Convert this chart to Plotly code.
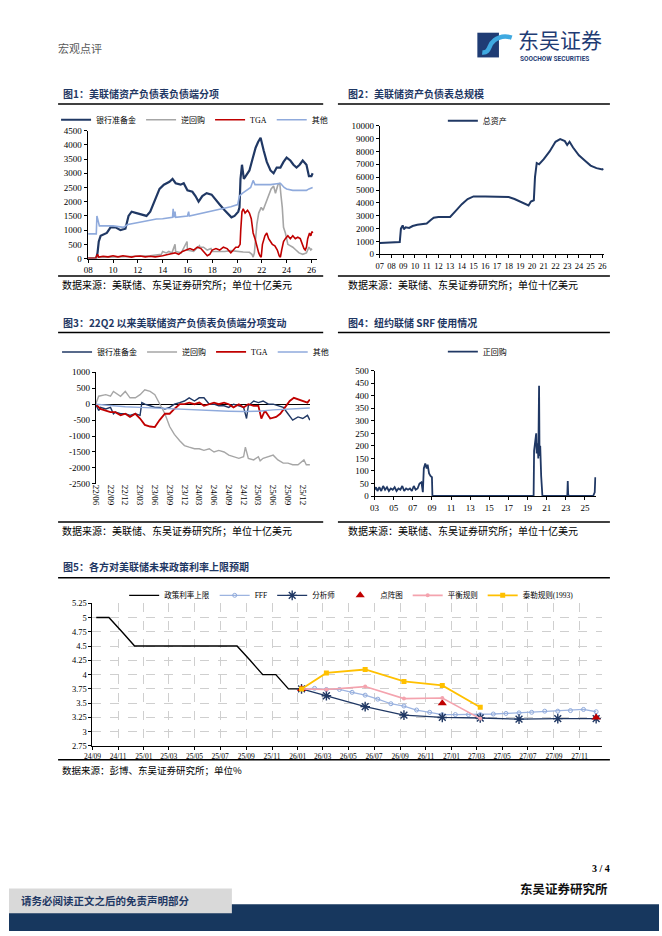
import plotly.graph_objects as go

# ---------------- data ----------------
# Chart 1: Fed liabilities (bn USD), decimal years
C1_RESERVES = [(2008.0, 10), (2008.65, 20), (2008.75, 200), (2008.85, 600), (2009.0, 800), (2009.3, 850), (2009.5, 900),
               (2009.8, 1100), (2010.2, 1100), (2010.6, 1000), (2011.0, 1050), (2011.25, 1500), (2011.5, 1650),
               (2011.9, 1600), (2012.3, 1550), (2012.7, 1500), (2013.0, 1650), (2013.35, 2000), (2013.75, 2450),
               (2014.1, 2600), (2014.55, 2700), (2014.8, 2800), (2015.05, 2650), (2015.45, 2600), (2015.7, 2650),
               (2016.0, 2400), (2016.4, 2350), (2016.65, 2200), (2016.9, 2000), (2017.2, 2200), (2017.55, 2300),
               (2017.95, 2250), (2018.2, 2100), (2018.6, 1900), (2019.0, 1700), (2019.3, 1550), (2019.55, 1450),
               (2019.8, 1500), (2020.1, 1650), (2020.2, 1800), (2020.28, 2800), (2020.4, 3300), (2020.55, 2800),
               (2020.7, 2900), (2021.0, 3100), (2021.25, 3500), (2021.5, 3900), (2021.7, 4100), (2021.9, 4250),
               (2022.15, 3800), (2022.4, 3400), (2022.7, 3100), (2022.95, 3000), (2023.2, 3200), (2023.5, 3200),
               (2023.75, 3400), (2024.0, 3550), (2024.3, 3450), (2024.55, 3300), (2024.8, 3200), (2025.05, 3300),
               (2025.3, 3450), (2025.6, 3300), (2025.8, 2900), (2026.0, 2900), (2026.1, 3000)]
C1_RRP = [(2008.0, 20), (2009.0, 30), (2010.0, 60), (2011.0, 60), (2012.0, 80), (2013.0, 100), (2013.9, 150),
          (2014.0, 250), (2014.3, 200), (2014.5, 250), (2014.75, 200), (2015.0, 500), (2015.05, 250), (2015.5, 200),
          (2015.97, 600), (2016.0, 300), (2016.5, 250), (2016.97, 450), (2017.0, 400), (2017.3, 400), (2017.6, 300),
          (2017.9, 350), (2018.0, 250), (2018.5, 250), (2019.0, 250), (2019.5, 280), (2020.0, 250), (2020.5, 230),
          (2021.0, 220), (2021.2, 150), (2021.3, 50), (2021.4, 200), (2021.5, 700), (2021.6, 1200), (2021.75, 1600),
          (2021.95, 1800), (2022.1, 1700), (2022.35, 2000), (2022.5, 2200), (2022.75, 2450), (2022.95, 2550),
          (2023.1, 2300), (2023.3, 2600), (2023.45, 2650), (2023.55, 2200), (2023.65, 1800), (2023.75, 1100),
          (2023.9, 900), (2024.1, 500), (2024.3, 450), (2024.5, 400), (2024.75, 300), (2025.0, 200), (2025.3, 150),
          (2025.6, 200), (2025.8, 400), (2025.95, 300), (2026.05, 350)]
C1_TGA = [(2008.0, 10), (2008.6, 20), (2008.75, 150), (2008.85, 50), (2009.2, 80), (2009.6, 60), (2010.0, 100),
          (2010.4, 60), (2010.8, 100), (2011.2, 80), (2011.5, 50), (2011.8, 80), (2012.2, 90), (2012.6, 60),
          (2013.0, 80), (2013.4, 60), (2013.8, 80), (2014.0, 100), (2014.5, 150), (2015.0, 200), (2015.3, 150),
          (2015.6, 250), (2015.9, 300), (2016.2, 350), (2016.5, 300), (2016.8, 400), (2017.1, 350), (2017.4, 200),
          (2017.6, 100), (2017.8, 150), (2018.0, 300), (2018.3, 350), (2018.6, 300), (2018.9, 400), (2019.2, 350),
          (2019.5, 200), (2019.7, 300), (2019.9, 400), (2020.1, 400), (2020.25, 500), (2020.3, 1000), (2020.4, 1650),
          (2020.5, 1750), (2020.65, 1600), (2020.85, 1700), (2021.0, 1600), (2021.15, 1400), (2021.3, 900),
          (2021.45, 700), (2021.6, 400), (2021.75, 200), (2021.85, 100), (2021.95, 50), (2022.05, 500),
          (2022.25, 800), (2022.4, 900), (2022.55, 700), (2022.7, 600), (2022.85, 500), (2023.05, 450),
          (2023.25, 300), (2023.4, 100), (2023.5, 50), (2023.6, 300), (2023.75, 600), (2023.9, 700), (2024.1, 800),
          (2024.3, 700), (2024.5, 800), (2024.7, 700), (2024.9, 750), (2025.1, 700), (2025.25, 500), (2025.4, 350),
          (2025.5, 300), (2025.6, 400), (2025.7, 700), (2025.85, 900), (2025.95, 800), (2026.05, 950), (2026.1, 900)]
C1_OTHER = [(2008.0, 870), (2008.65, 870), (2008.7, 1500), (2008.8, 1300), (2008.9, 1150), (2009.5, 1150),
            (2010.0, 1150), (2010.85, 1100), (2011.2, 1200), (2012.15, 1280), (2013.0, 1350), (2013.5, 1390),
            (2014.0, 1400), (2014.8, 1450), (2014.85, 1750), (2014.9, 1450), (2015.0, 1650), (2015.05, 1450),
            (2016.0, 1500), (2016.1, 1650), (2016.15, 1500), (2017.0, 1580), (2017.4, 1600), (2018.0, 1680),
            (2018.75, 1750), (2019.5, 1820), (2020.05, 1900), (2020.2, 2200), (2020.45, 2300), (2020.8, 2400),
            (2021.1, 2500), (2021.3, 2750), (2021.45, 2600), (2021.7, 2600), (2022.0, 2600), (2022.7, 2600),
            (2023.5, 2650), (2023.8, 2500), (2024.0, 2450), (2024.5, 2400), (2025.05, 2400), (2025.6, 2400),
            (2025.8, 2450), (2026.1, 2500)]
C1_XTICKS = ["08", "10", "12", "14", "16", "18", "20", "22", "24", "26"]
C1_NAMES = ["银行准备金", "逆回购", "TGA", "其他"]

# Chart 2: total assets
C2_TOTAL = [(2007.0, 880), (2008.0, 900), (2008.7, 950), (2008.8, 2000), (2008.95, 2250), (2009.05, 1950),
            (2009.2, 2100), (2009.5, 2050), (2009.8, 2200), (2010.2, 2300), (2010.6, 2350), (2011.0, 2400),
            (2011.4, 2700), (2011.6, 2850), (2012.0, 2900), (2012.5, 2900), (2013.0, 2900), (2013.5, 3400),
            (2014.0, 3900), (2014.5, 4300), (2015.0, 4500), (2016.0, 4500), (2017.0, 4450), (2018.0, 4450),
            (2018.5, 4300), (2019.0, 4100), (2019.7, 3800), (2019.9, 4100), (2020.15, 4200), (2020.25, 6000),
            (2020.4, 7100), (2020.6, 7000), (2021.0, 7400), (2021.5, 8000), (2022.0, 8750), (2022.4, 8950),
            (2022.8, 8800), (2023.0, 8500), (2023.2, 8750), (2023.5, 8300), (2024.0, 7700), (2024.5, 7300),
            (2025.0, 6900), (2025.5, 6700), (2026.0, 6600), (2026.1, 6650)]
C2_XTICKS = ["07", "08", "09", "10", "11", "12", "13", "14", "15", "16", "17", "18", "19", "20", "21", "22",
             "23", "24", "25", "26"]
C2_NAME = "总资产"

# Chart 3: change since 22Q2
C3_RESERVES = [(2022.50, 0), (2022.55, -200), (2022.58, -100), (2022.67, -150), (2022.75, -100), (2022.80, -300),
               (2022.83, -250), (2022.92, -300), (2023.00, -300), (2023.08, -350), (2023.17, -300), (2023.25, -350),
               (2023.28, 50), (2023.33, 0), (2023.42, -50), (2023.50, -100), (2023.58, -100), (2023.67, -150),
               (2023.75, -100), (2023.83, 0), (2023.92, 50), (2024.00, 100), (2024.08, 200), (2024.17, 100),
               (2024.25, 200), (2024.33, 200), (2024.42, 0), (2024.50, 0), (2024.58, -50), (2024.67, -50),
               (2024.75, -100), (2024.83, 0), (2024.92, -50), (2025.00, -100), (2025.05, -450), (2025.08, -50),
               (2025.17, 100), (2025.25, 50), (2025.33, 100), (2025.42, 0), (2025.50, 0), (2025.58, -50),
               (2025.67, -100), (2025.75, -300), (2025.83, -500), (2025.92, -400), (2026.00, -450), (2026.08, -350),
               (2026.12, -500)]
C3_RRP = [(2022.50, 0), (2022.55, 250), (2022.67, 300), (2022.75, 250), (2022.80, 400), (2022.92, 250),
          (2023.00, 400), (2023.08, 200), (2023.17, 200), (2023.25, 300), (2023.33, 450), (2023.42, 400),
          (2023.50, 300), (2023.58, 0), (2023.67, -300), (2023.75, -700), (2023.83, -950), (2023.92, -1150),
          (2024.00, -1300), (2024.08, -1350), (2024.17, -1400), (2024.25, -1400), (2024.33, -1450), (2024.42, -1400),
          (2024.50, -1500), (2024.58, -1450), (2024.67, -1500), (2024.75, -1600), (2024.83, -1650), (2024.92, -1700),
          (2025.00, -1650), (2025.03, -1350), (2025.08, -1700), (2025.17, -1750), (2025.25, -1650), (2025.28, -1780),
          (2025.33, -1700), (2025.42, -1650), (2025.50, -1600), (2025.58, -1750), (2025.67, -1850), (2025.75, -1850),
          (2025.83, -1900), (2025.92, -1900), (2026.00, -1800), (2026.02, -1750), (2026.06, -1900), (2026.12, -1900)]
C3_TGA = [(2022.50, 0), (2022.58, -150), (2022.67, -200), (2022.75, -250), (2022.83, -250), (2022.92, -350),
          (2023.00, -300), (2023.08, -400), (2023.17, -300), (2023.25, -450), (2023.33, -650), (2023.42, -700),
          (2023.50, -720), (2023.58, -500), (2023.67, -300), (2023.75, -300), (2023.83, -150), (2023.92, 0),
          (2024.00, 0), (2024.08, 50), (2024.17, 0), (2024.25, 50), (2024.33, -50), (2024.42, 0), (2024.50, 50),
          (2024.58, 0), (2024.67, 50), (2024.75, 0), (2024.83, -100), (2024.92, 0), (2025.00, -100), (2025.08, 0),
          (2025.17, -50), (2025.25, -50), (2025.30, -450), (2025.36, -200), (2025.45, -450), (2025.55, -400),
          (2025.62, -300), (2025.70, -100), (2025.78, 100), (2025.85, 200), (2025.92, 150), (2026.00, 100),
          (2026.08, 50), (2026.12, 150)]
C3_OTHER = [(2022.5, 0), (2022.75, -50), (2023.0, -80), (2023.25, -100), (2023.5, -120), (2023.75, -150),
            (2024.0, -180), (2024.25, -200), (2024.5, -200), (2024.75, -220), (2025.0, -230), (2025.25, -220),
            (2025.5, -180), (2025.75, -150), (2026.0, -130), (2026.12, -120)]
C3_XTICKS = ["22/06", "22/09", "22/12", "23/03", "23/06", "23/09", "23/12", "24/03", "24/06", "24/09",
             "24/12", "25/03", "25/06", "25/09", "25/12"]
C3_YTICKS = [1000, 500, 0, -500, -1000, -1500, -2000, -2500]

# Chart 4: NY Fed repo (SRF) usage
C4_REPO = [(2003.0, 25), (2003.15, 35), (2003.3, 20), (2003.5, 35), (2003.7, 20), (2003.9, 40), (2004.1, 25),
           (2004.3, 35), (2004.5, 20), (2004.7, 30), (2004.9, 25), (2005.1, 35), (2005.3, 20), (2005.5, 30),
           (2005.7, 25), (2005.9, 40), (2006.1, 20), (2006.3, 30), (2006.5, 25), (2006.7, 30), (2006.9, 20),
           (2007.1, 40), (2007.3, 25), (2007.5, 30), (2007.7, 50), (2007.9, 55), (2008.05, 15), (2008.15, 110),
           (2008.3, 130), (2008.45, 110), (2008.55, 125), (2008.7, 90), (2008.85, 80), (2009.0, 75), (2009.05, 0),
           (2019.63, 0), (2019.68, 180), (2019.8, 220), (2019.9, 250), (2019.95, 170), (2020.05, 210),
           (2020.12, 150), (2020.2, 440), (2020.25, 160), (2020.32, 200), (2020.42, 80), (2020.55, 0),
           (2023.15, 0), (2023.2, 60), (2023.24, 10), (2023.28, 0), (2025.85, 0), (2025.95, 10), (2026.02, 15),
           (2026.08, 75)]
C4_XTICKS = ["03", "05", "07", "09", "11", "13", "15", "17", "19", "21", "23", "25"]
C4_NAME = "正回购"

# Chart 5: policy-rate upper bound expectations (%)
C5_POLICY = [("2024-09-10", 5.0), ("2024-10-10", 5.0), ("2024-11-10", 4.75), ("2024-12-10", 4.5),
             ("2025-01-10", 4.5), ("2025-02-10", 4.5), ("2025-03-10", 4.5), ("2025-04-10", 4.5),
             ("2025-05-10", 4.5), ("2025-06-10", 4.5), ("2025-07-10", 4.5), ("2025-08-10", 4.5),
             ("2025-09-10", 4.25), ("2025-10-10", 4.0), ("2025-11-10", 4.0), ("2025-12-10", 3.75),
             ("2026-01-10", 3.75)]
C5_FFF = [("2026-01-10", 3.75), ("2026-02-10", 3.76), ("2026-03-10", 3.74), ("2026-04-10", 3.74),
          ("2026-05-10", 3.69), ("2026-06-10", 3.64), ("2026-07-10", 3.57), ("2026-08-10", 3.49),
          ("2026-09-10", 3.45), ("2026-10-10", 3.38), ("2026-11-10", 3.34), ("2026-12-10", 3.30),
          ("2027-01-10", 3.30), ("2027-02-10", 3.30), ("2027-03-10", 3.30), ("2027-04-10", 3.31),
          ("2027-05-10", 3.32), ("2027-06-10", 3.33), ("2027-07-10", 3.34), ("2027-08-10", 3.36),
          ("2027-09-10", 3.36), ("2027-10-10", 3.37), ("2027-11-10", 3.39), ("2027-12-10", 3.35)]
C5_ANALYST = [("2026-01-10", 3.75), ("2026-03-10", 3.63), ("2026-06-10", 3.44), ("2026-09-10", 3.29),
              ("2026-12-10", 3.25), ("2027-03-10", 3.24), ("2027-06-10", 3.22), ("2027-09-10", 3.23),
              ("2027-12-10", 3.23)]
C5_DOTPLOT = [("2026-01-10", 3.75), ("2026-12-10", 3.5), ("2027-12-10", 3.25)]
C5_BALANCED = [("2026-01-10", 3.75), ("2026-03-10", 3.74), ("2026-06-10", 3.79), ("2026-09-10", 3.58),
               ("2026-12-10", 3.59), ("2027-03-10", 3.23)]
C5_TAYLOR = [("2026-01-10", 3.75), ("2026-03-10", 4.03), ("2026-06-10", 4.09), ("2026-09-10", 3.88),
             ("2026-12-10", 3.81), ("2027-03-10", 3.43)]
C5_NAMES = ["政策利率上限", "FFF", "分析师", "点阵图", "平衡规则", "泰勒规则(1993)"]

# ---------------- helpers ----------------
W, H = 662, 936


def fx(p):
    return p / W


def fy(p):
    return 1 - p / H


def xs(series):
    return [a for a, _ in series]


def ys(series):
    return [b for _, b in series]


NAVY = "#203864"
GRAY = "#A6A6A6"
RED = "#C00000"
LBLUE = "#8FAADC"
TITLE_C = "#1F3864"
NUMFONT = "Liberation Serif, Noto Sans CJK SC"
CJK = "Noto Sans CJK SC"

fig = go.Figure()

# Chart 1
for ser, nm, col, w in [(C1_RESERVES, C1_NAMES[0], NAVY, 2.2), (C1_RRP, C1_NAMES[1], GRAY, 1.6),
                        (C1_TGA, C1_NAMES[2], RED, 1.6), (C1_OTHER, C1_NAMES[3], LBLUE, 1.6)]:
    fig.add_trace(go.Scatter(x=xs(ser), y=ys(ser), name=nm, mode="lines", line=dict(color=col, width=w),
                             xaxis="x", yaxis="y", legend="legend"))
# Chart 2
fig.add_trace(go.Scatter(x=xs(C2_TOTAL), y=ys(C2_TOTAL), name=C2_NAME, mode="lines",
                         line=dict(color=NAVY, width=2), xaxis="x2", yaxis="y2", legend="legend2"))
# Chart 3
for ser, nm, col, w in [(C3_RESERVES, C1_NAMES[0], NAVY, 1.4), (C3_RRP, C1_NAMES[1], GRAY, 1.4),
                        (C3_TGA, C1_NAMES[2], RED, 1.8), (C3_OTHER, C1_NAMES[3], LBLUE, 1.4)]:
    fig.add_trace(go.Scatter(x=xs(ser), y=ys(ser), name=nm, mode="lines", line=dict(color=col, width=w),
                             xaxis="x3", yaxis="y3", legend="legend3"))
# Chart 4
fig.add_trace(go.Scatter(x=xs(C4_REPO), y=ys(C4_REPO), name=C4_NAME, mode="lines",
                         line=dict(color=NAVY, width=1.8), xaxis="x4", yaxis="y4", legend="legend4"))
# Chart 5
fig.add_trace(go.Scatter(x=xs(C5_POLICY), y=ys(C5_POLICY), name=C5_NAMES[0], mode="lines",
                         line=dict(color="#000000", width=1.4), xaxis="x5", yaxis="y5", legend="legend5"))
fig.add_trace(go.Scatter(x=xs(C5_FFF), y=ys(C5_FFF), name=C5_NAMES[1], mode="lines+markers",
                         line=dict(color="#9DB4E0", width=1.3),
                         marker=dict(symbol="circle-open", size=4, color="#8FAADC", line=dict(width=1)),
                         xaxis="x5", yaxis="y5", legend="legend5"))
fig.add_trace(go.Scatter(x=xs(C5_ANALYST), y=ys(C5_ANALYST), name=C5_NAMES[2], mode="lines+markers",
                         line=dict(color=NAVY, width=1.3),
                         marker=dict(symbol="asterisk-open", size=8, color=NAVY, line=dict(width=1.4, color=NAVY)),
                         xaxis="x5", yaxis="y5", legend="legend5"))
fig.add_trace(go.Scatter(x=xs(C5_DOTPLOT), y=ys(C5_DOTPLOT), name=C5_NAMES[3], mode="markers",
                         marker=dict(symbol="triangle-up", size=8, color=RED),
                         xaxis="x5", yaxis="y5", legend="legend5"))
fig.add_trace(go.Scatter(x=xs(C5_BALANCED), y=ys(C5_BALANCED), name=C5_NAMES[4], mode="lines+markers",
                         line=dict(color="#F4A3AE", width=1.6),
                         marker=dict(symbol="circle", size=4, color="#F4A3AE"),
                         xaxis="x5", yaxis="y5", legend="legend5"))
fig.add_trace(go.Scatter(x=xs(C5_TAYLOR), y=ys(C5_TAYLOR), name=C5_NAMES[5], mode="lines+markers",
                         line=dict(color="#FFC000", width=1.8),
                         marker=dict(symbol="square", size=5, color="#FFC000"),
                         xaxis="x5", yaxis="y5", legend="legend5"))

tickfont = dict(family=NUMFONT, size=9, color="#000000")
base_axis = dict(showline=True, linecolor="#000000", linewidth=1, ticks="outside", ticklen=3,
                 tickcolor="#000000", showgrid=False, zeroline=False, tickfont=tickfont, fixedrange=True)


def ax(**kw):
    d = dict(base_axis)
    d.update(kw)
    return d


c1_years = [2008 + 2 * i for i in range(len(C1_XTICKS))]
c2_years = [2007 + i for i in range(len(C2_XTICKS))]
c3_vals = [2022.5 + 0.25 * i for i in range(len(C3_XTICKS))]
c4_years = [2003 + 2 * i for i in range(len(C4_XTICKS))]


def legend_cfg(xc, yc, size=8):
    return dict(x=fx(xc), y=fy(yc), xanchor="center", yanchor="middle", orientation="h",
                font=dict(family=NUMFONT, size=size, color="#000000"), bgcolor="rgba(0,0,0,0)",
                itemwidth=30, itemclick=False, itemdoubleclick=False)


fig.update_layout(
    width=W, height=H, margin=dict(l=0, r=0, t=0, b=0), paper_bgcolor="white", plot_bgcolor="white",
    showlegend=True,
    xaxis=ax(domain=[fx(80), fx(313.3)], range=[2007.945, 2026.42], anchor="y",
             tickvals=c1_years, ticktext=C1_XTICKS),
    yaxis=ax(domain=[fy(256.3), fy(127)], range=[0, 4500], dtick=500, anchor="x"),
    xaxis2=ax(domain=[fx(377.7), fx(605.7)], range=[2007, 2026.12], anchor="y2",
              tickvals=c2_years, ticktext=C2_XTICKS, tickfont=dict(family=NUMFONT, size=8.5, color="#000")),
    yaxis2=ax(domain=[fy(252), fy(122)], range=[0, 10000], dtick=1000, anchor="x2", tickformat="d"),
    xaxis3=ax(domain=[fx(88.3), fx(306.7)], range=[2022.5, 2026.125], anchor="y3",
              tickvals=c3_vals, ticktext=C3_XTICKS, tickangle=90, showline=False, ticks=""),
    yaxis3=ax(domain=[fy(484), fy(371.3)], range=[-2500, 1000], anchor="x3",
              tickvals=C3_YTICKS, ticktext=[str(v) for v in C3_YTICKS],
              zeroline=True, zerolinecolor="#000000", zerolinewidth=1),
    xaxis4=ax(domain=[fx(372.3), fx(598.3)], range=[2003, 2026.2], anchor="y4",
              tickvals=c4_years, ticktext=C4_XTICKS),
    yaxis4=ax(domain=[fy(496.3), fy(369.7)], range=[0, 500], dtick=50, anchor="x4"),
    xaxis5=ax(domain=[fx(85), fx(604)], range=["2024-09-01", "2027-12-24"], anchor="y5", type="date",
              tick0="2024-09-01", dtick="M2", tickformat="%y/%m",
              tickfont=dict(family=NUMFONT, size=7.5, color="#000"),
              showgrid=True, gridcolor="#CFCFCF", griddash="dash", gridwidth=0.8),
    yaxis5=ax(domain=[fy(749), fy(604.7)], range=[2.75, 5.25], dtick=0.25, anchor="x5",
              showgrid=True, gridcolor="#CFCFCF", griddash="dash", gridwidth=0.8,
              tickfont=dict(family=NUMFONT, size=8.5, color="#000")),
    legend=legend_cfg(189, 116),
    legend2=legend_cfg(477, 117),
    legend3=legend_cfg(190, 350.7),
    legend4=legend_cfg(477, 350.3),
    legend5=legend_cfg(349, 596.7, 7.5),
)

# ---------------- page decorations ----------------
shapes = []
annos = []


def hline(x0, x1, y, w=1.5, c="#000000"):
    shapes.append(dict(type="line", xref="paper", yref="paper", x0=fx(x0), x1=fx(x1), y0=fy(y), y1=fy(y),
                       line=dict(color=c, width=w)))


def rect(x0, y0, x1, y1, c):
    shapes.append(dict(type="rect", xref="paper", yref="paper", x0=fx(x0), x1=fx(x1), y0=fy(y1), y1=fy(y0),
                       fillcolor=c, line=dict(width=0), layer="below"))


def text(x, y, s, size, color="#000000", bold=False, anchor="left", family=CJK):
    annos.append(dict(xref="paper", yref="paper", x=fx(x), y=fy(y), text=("<b>%s</b>" % s) if bold else s,
                      showarrow=False, xanchor=anchor, yanchor="middle",
                      font=dict(family=family, size=size, color=color)))


# header
text(48, 43, "宏观点评", 11, "#595959")
rect(477, 28, 499, 53, "#1F3C74")
shapes.append(dict(type="path", xref="paper", yref="paper",
                   path="M %f,%f C %f,%f %f,%f %f,%f C %f,%f %f,%f %f,%f" % (
                       fx(482), fy(48), fx(490), fy(49), fx(488), fy(40), fx(494), fy(36),
                       fx(499), fy(32), fx(506), fy(31), fx(512), fy(33)),
                   line=dict(color="#3FA9E0", width=4.5)))
text(516, 34.5, "东吴证券", 21, "#1F3C74")
text(518, 55, "SOOCHOW SECURITIES", 6.5, "#1F3C74", bold=True, family="Roboto, Noto Sans")

# figure titles / separators / sources
text(53, 89, "图1：美联储资产负债表负债端分项", 10, TITLE_C, bold=True)
text(343, 89, "图2：美联储资产负债表总规模", 10, TITLE_C, bold=True)
hline(50, 320, 100)
hline(335, 612, 100)
hline(50, 320, 274)
hline(335, 612, 274)
text(52, 283, "数据来源：美联储、东吴证券研究所；单位十亿美元", 10)
text(343, 283, "数据来源：美联储、东吴证券研究所；单位十亿美元", 10)

text(53, 320.5, "图3：22Q2 以来美联储资产负债表负债端分项变动", 10, TITLE_C, bold=True)
text(343, 320.5, "图4：纽约联储 SRF 使用情况", 10, TITLE_C, bold=True)
hline(50, 320, 331)
hline(335, 612, 331)
hline(50, 320, 522.5)
hline(335, 612, 522.5)
text(52, 531.5, "数据来源：美联储、东吴证券研究所；单位十亿美元", 10)
text(343, 531.5, "数据来源：美联储、东吴证券研究所；单位十亿美元", 10)

text(53, 568, "图5：各方对美联储未来政策利率上限预期", 10, TITLE_C, bold=True)
hline(50, 612, 579)
hline(50, 612, 763)
text(52, 773, "数据来源：彭博、东吴证券研究所；单位%", 9.5)

# footer
text(614, 873, "3 / 4", 10, "#000000", bold=True, anchor="right", family="Liberation Serif")
text(612, 893, "东吴证券研究所", 12.5, "#111111", bold=True, anchor="right")
rect(0, 909, 662, 936, "#17375E")
rect(0, 893, 227, 918, "#D9D9D9")
text(10, 905.5, "请务必阅读正文之后的免责声明部分", 10.5, TITLE_C, bold=True)

fig.update_layout(shapes=shapes, annotations=annos)
fig.write_html("out.html", config={"displayModeBar": False},
               post_script="document.body.style.margin='0px';document.body.style.padding='0px';"
                           "document.documentElement.style.overflow='hidden';")
